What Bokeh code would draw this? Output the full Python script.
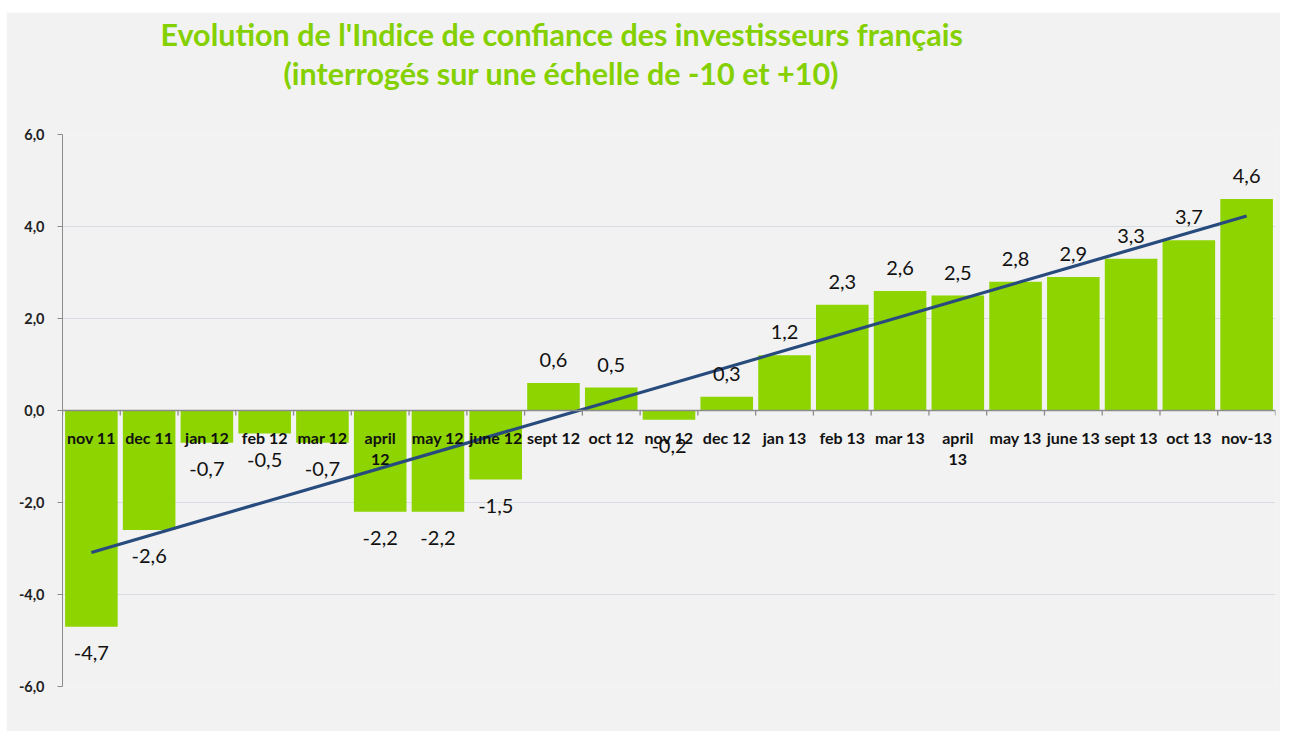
import numpy as np
from bokeh.plotting import figure
from bokeh.models import Range1d, FixedTicker, ColumnDataSource, Span, Title
from bokeh.core.properties import value
from bokeh.embed import file_html
from bokeh.resources import INLINE

categories = ["nov 11", "dec 11", "jan 12", "feb 12", "mar 12", "april\n12", "may 12",
              "june 12", "sept 12", "oct 12", "nov 12", "dec 12", "jan 13", "feb 13",
              "mar 13", "april\n13", "may 13", "june 13", "sept 13", "oct 13", "nov-13"]
values = [-4.7, -2.6, -0.7, -0.5, -0.7, -2.2, -2.2, -1.5, 0.6, 0.5, -0.2, 0.3, 1.2,
          2.3, 2.6, 2.5, 2.8, 2.9, 3.3, 3.7, 4.6]
tick_values = [-6, -4, -2, 0, 2, 4, 6]
tick_labels = ["-6,0", "-4,0", "-2,0", "0,0", "2,0", "4,0", "6,0"]
title_lines = ["Evolution de l'Indice de confiance des investisseurs français",
               "(interrogés sur une échelle de -10 et +10)"]

FONT = "Lato"
BG = "#f2f2f2"
GREEN = "#8dd400"
TITLE_GREEN = "#84d000"

idx = np.arange(len(categories))
vals = np.array(values)
labels = [f"{v:.1f}".replace(".", ",") for v in values]

p = figure(width=1274, height=719, output_backend="svg", toolbar_location=None,
           x_range=Range1d(-0.5, len(categories) - 0.5), y_range=Range1d(-6, 6),
           x_axis_location=None, min_border_left=56, min_border_right=5,
           min_border_top=122, min_border_bottom=45)
p.margin = (12, 0, 0, 6)
p.background_fill_color = BG
p.border_fill_color = BG
p.outline_line_color = None
p.xgrid.grid_line_color = None
p.ygrid.grid_line_color = "#d8dde4"
p.ygrid.grid_line_width = 1
p.ygrid.ticker = FixedTicker(ticks=tick_values)

ax = p.yaxis[0]
ax.ticker = FixedTicker(ticks=tick_values)
ax.major_label_overrides = {t: l for t, l in zip(tick_values, tick_labels)}
ax.minor_tick_line_color = None
ax.major_tick_in = 0
ax.major_tick_out = 5
ax.axis_line_color = "#8c8c8c"
ax.major_tick_line_color = "#8c8c8c"
ax.major_label_text_font = FONT
ax.major_label_text_font_style = "bold"
ax.major_label_text_font_size = "14.5px"
ax.major_label_text_color = "#222222"
ax.major_label_standoff = 13

src = ColumnDataSource(dict(x=idx, top=vals, lab=labels, cat=categories,
                            zero=np.zeros(len(idx))))
p.vbar(x="x", top="top", bottom=0, width=0.91, fill_color=GREEN, line_color=None, source=src)

# zero axis line and category boundary ticks
p.add_layout(Span(location=0, dimension="width", line_color="#8c8c8c", line_width=1.3))
bounds = np.arange(len(categories) + 1) - 0.5
p.segment(x0=bounds, x1=bounds, y0=0, y1=-0.11, line_color="#8c8c8c", line_width=1.3)

# trend line
slope, intercept = np.polyfit(idx, vals, 1)
p.line(x=[idx[0], idx[-1]], y=[intercept + slope * idx[0], intercept + slope * idx[-1]],
       line_color="#284b7e", line_width=3.2)

# value labels
pos = vals >= 0
p.text(x=idx[pos], y=vals[pos], text=np.array(labels)[pos], y_offset=-23,
       text_align="center", text_baseline="middle", text_font=value(FONT),
       text_font_size="20px", text_color="#111111")
p.text(x=idx[~pos], y=vals[~pos], text=np.array(labels)[~pos], y_offset=26,
       text_align="center", text_baseline="middle", text_font=value(FONT),
       text_font_size="20px", text_color="#111111")

# category labels
p.text(x="x", y="zero", text="cat", source=src, y_offset=17, text_align="center",
       text_baseline="top", text_font=value(FONT), text_font_style="bold",
       text_font_size="16px", text_color="#111111", text_line_height=1.15)

# title: spacer panel next to the frame, then the two title lines
p.add_layout(Title(text=" ", text_font_size="10px", standoff=30,
                   text_color=BG), "above")
p.add_layout(Title(text=title_lines[1], align="left", offset=221, text_font=FONT,
                   text_font_style="bold", text_font_size="30.5px",
                   text_color=TITLE_GREEN, standoff=2), "above")
p.add_layout(Title(text=title_lines[0], align="left", offset=98, text_font=FONT,
                   text_font_style="bold", text_font_size="30.5px",
                   text_color=TITLE_GREEN, standoff=0), "above")

open("out.html", "w").write(file_html(p, INLINE))
